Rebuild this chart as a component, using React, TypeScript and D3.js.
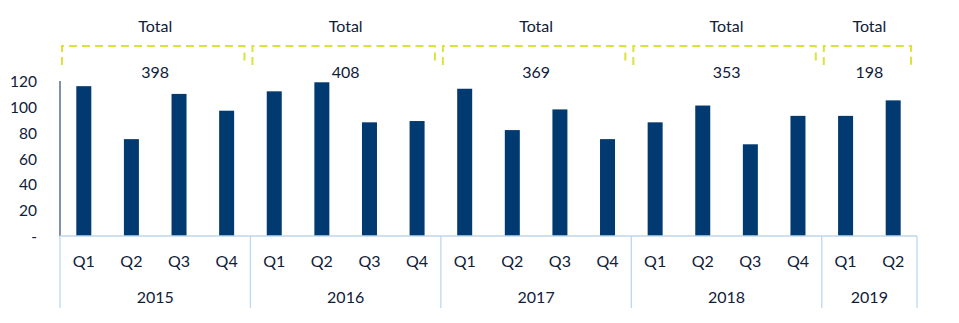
import React from "react";
import * as d3 from "d3";

const years = ["2015", "2016", "2017", "2018", "2019"];
const quartersPerYear = [
  ["Q1", "Q2", "Q3", "Q4"],
  ["Q1", "Q2", "Q3", "Q4"],
  ["Q1", "Q2", "Q3", "Q4"],
  ["Q1", "Q2", "Q3", "Q4"],
  ["Q1", "Q2"],
];
const values = [116, 75, 110, 97, 112, 119, 88, 89, 114, 82, 98, 75, 88, 101, 71, 93, 93, 105];
const totals = [398, 408, 369, 353, 198];
const yTicks = [0, 20, 40, 60, 80, 100, 120];
const totalLabel = "Total";

const W = 959;
const H = 323;
const FONT = "Lato, 'Open Sans', sans-serif";
const TEXT = "#102038";
const BAR = "#003a70";
const AXISLIGHT = "#bdd7ee";
const DASH = "#dbe23c";

export default function App() {
  const left = 60;
  const right = 917;
  const baseY = 236;
  const topY = 81;

  const cats: { key: string; q: string; yi: number }[] = [];
  quartersPerYear.forEach((qs, yi) => qs.forEach((q) => cats.push({ key: `${years[yi]}-${q}`, q, yi })));

  const x = d3.scaleBand<string>().domain(cats.map((c) => c.key)).range([left, right]).paddingInner(0).paddingOuter(0);
  const y = d3.scaleLinear().domain([0, 120]).range([baseY, topY]);
  const bw = x.bandwidth();
  const barW = bw * 0.315;

  const groups = years.map((yr, yi) => {
    const keys = cats.filter((c) => c.yi === yi).map((c) => c.key);
    const x0 = x(keys[0])!;
    const x1 = x(keys[keys.length - 1])! + bw;
    return { yr, yi, x0, x1, cx: (x0 + x1) / 2 };
  });

  return (
    <svg width={W} height={H} style={{ position: "absolute", left: 0, top: 0, background: "#fff" }}>
      {/* y axis */}
      <line x1={left} x2={left} y1={y(120)} y2={baseY} stroke="#2c4a70" strokeWidth={1.2} />
      {yTicks.map((t) => (
        <text key={t} x={37} y={y(t)} textAnchor="end" dominantBaseline="central" fontFamily={FONT} fontSize={15.5} fill={TEXT}>
          {t === 0 ? "-" : t}
        </text>
      ))}

      {/* bars */}
      {cats.map((c, i) => (
        <rect
          key={c.key}
          x={x(c.key)! + bw / 2 - barW / 2}
          y={y(values[i])}
          width={barW}
          height={baseY - y(values[i])}
          fill={BAR}
        />
      ))}

      {/* category axis */}
      <line x1={left} x2={right} y1={baseY} y2={baseY} stroke={AXISLIGHT} strokeWidth={1.3} />
      {groups.map((g) => (
        <line key={"sep" + g.yr} x1={g.x0} x2={g.x0} y1={baseY} y2={308} stroke={AXISLIGHT} strokeWidth={1.3} />
      ))}
      <line x1={right} x2={right} y1={baseY} y2={308} stroke={AXISLIGHT} strokeWidth={1.3} />
      {cats.map((c) => (
        <text key={"q" + c.key} x={x(c.key)! + bw / 2} y={260} textAnchor="middle" dominantBaseline="central" fontFamily={FONT} fontSize={16} fill={TEXT}>
          {c.q}
        </text>
      ))}
      {groups.map((g) => (
        <text key={"yr" + g.yr} x={g.cx} y={296} textAnchor="middle" dominantBaseline="central" fontFamily={FONT} fontSize={16} fill={TEXT}>
          {g.yr}
        </text>
      ))}

      {/* totals annotations */}
      {groups.map((g) => {
        const bl = g.x0 + 2;
        const br = g.x1 - 6;
        return (
          <g key={"tot" + g.yr}>
            <text x={g.cx} y={25} textAnchor="middle" dominantBaseline="central" fontFamily={FONT} fontSize={16} fill={TEXT}>
              {totalLabel}
            </text>
            <path
              d={`M${bl},65 V46 H${br} V65`}
              fill="none"
              stroke={DASH}
              strokeWidth={2}
              strokeDasharray="8 5"
            />
            <text x={g.cx} y={71} textAnchor="middle" dominantBaseline="central" fontFamily={FONT} fontSize={16} fill={TEXT}>
              {totals[g.yi]}
            </text>
          </g>
        );
      })}
    </svg>
  );
}
